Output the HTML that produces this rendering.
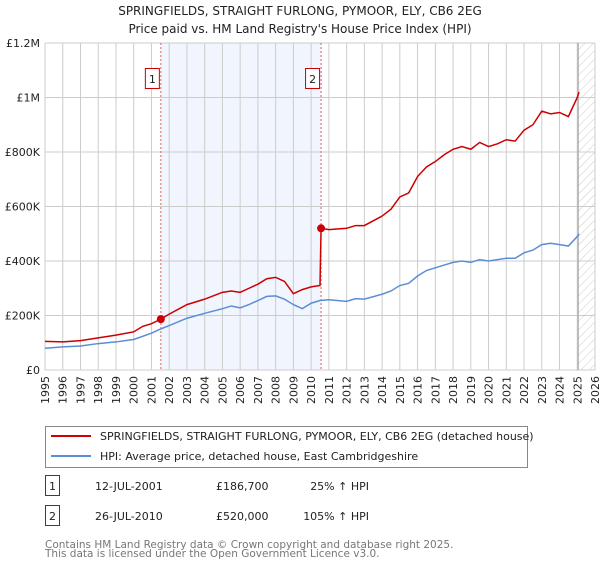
<!DOCTYPE html>
<html><head><meta charset="utf-8"><style>
body{margin:0;background:#fff;font-family:"DejaVu Sans","Liberation Sans",sans-serif;}
svg text{font-family:"DejaVu Sans","Liberation Sans",sans-serif;}
</style></head><body>
<svg id="chart" width="600" height="560" xmlns="http://www.w3.org/2000/svg">
<defs><pattern id="hatch" width="6" height="6" patternUnits="userSpaceOnUse" patternTransform="rotate(45)"><line x1="0" y1="0" x2="0" y2="6" stroke="#ccc" stroke-width="1"/></pattern></defs>
<text x="300" y="15" text-anchor="middle" font-size="12" fill="#222">SPRINGFIELDS, STRAIGHT FURLONG, PYMOOR, ELY, CB6 2EG</text>
<text x="300" y="33" text-anchor="middle" font-size="12" fill="#222">Price paid vs. HM Land Registry's House Price Index (HPI)</text>
<g id="plot"></g>
<g>
<rect x="45.5" y="426.5" width="482" height="41" fill="#fff" stroke="#888"/>
<line x1="51" y1="436" x2="91" y2="436" stroke="#cc0000" stroke-width="2"/>
<text x="100" y="440" font-size="11" fill="#222">SPRINGFIELDS, STRAIGHT FURLONG, PYMOOR, ELY, CB6 2EG (detached house)</text>
<line x1="51" y1="456" x2="91" y2="456" stroke="#5b8dd6" stroke-width="2"/>
<text x="100" y="460" font-size="11" fill="#222">HPI: Average price, detached house, East Cambridgeshire</text>
</g>
<g font-size="11" fill="#222">
<rect x="45.5" y="475.5" width="14" height="20" fill="#fff" stroke="#cc0000"/>
<text x="52.5" y="490" text-anchor="middle">1</text>
<text x="95" y="490">12-JUL-2001</text>
<text x="216" y="490">£186,700</text>
<text x="369" y="490" text-anchor="end">25% ↑ HPI</text>
<rect x="45.5" y="505.5" width="14" height="20" fill="#fff" stroke="#cc0000"/>
<text x="52.5" y="520" text-anchor="middle">2</text>
<text x="95" y="520">26-JUL-2010</text>
<text x="216" y="520">£520,000</text>
<text x="369" y="520" text-anchor="end">105% ↑ HPI</text>
</g>
<text x="45" y="548" font-size="10.5" fill="#777">Contains HM Land Registry data © Crown copyright and database right 2025.</text>
<text x="45" y="557" font-size="10.5" fill="#777">This data is licensed under the Open Government Licence v3.0.</text>
</svg>
<script>
const hpiYears=[1995,1996,1997,1998,1999,2000,2001,2001.5,2002,2003,2004,2005,2005.5,2006,2006.5,2007,2007.5,2008,2008.5,2009,2009.5,2010,2010.5,2011,2012,2012.5,2013,2014,2014.5,2015,2015.5,2016,2016.5,2017,2017.5,2018,2018.5,2019,2019.5,2020,2020.5,2021,2021.5,2022,2022.5,2023,2023.5,2024,2024.5,2025,2025.1];
const hpiValues=[80,85,88,97,103,112,135,150,163,190,208,225,235,228,240,255,270,272,260,240,225,245,255,258,252,262,260,278,290,310,318,345,365,375,385,395,400,395,405,400,405,410,410,430,440,460,465,460,455,490,500];
const priceYears=[1995,1996,1997,1998,1999,2000,2000.5,2001,2001.53,2002,2003,2004,2005,2005.5,2006,2006.5,2007,2007.5,2008,2008.5,2009,2009.5,2010,2010.5,2010.56,2011,2012,2012.5,2013,2014,2014.5,2015,2015.5,2016,2016.5,2017,2017.5,2018,2018.5,2019,2019.5,2020,2020.5,2021,2021.5,2022,2022.5,2023,2023.5,2024,2024.5,2025,2025.1];
const priceValues=[105,103,108,118,128,140,160,170,186.7,205,240,260,285,290,285,300,315,335,340,325,280,295,305,310,520,515,520,530,530,565,590,635,650,710,745,765,790,810,820,810,835,820,830,845,840,880,900,950,940,945,930,1000,1020];
const saleYears=[2001.53,2010.56];
const saleValues=[186.7,520];
const saleLabels=["1","2"];
const yTicks=[0,200,400,600,800,1000,1200];
const yTickLabels=["£0","£200K","£400K","£600K","£800K","£1M","£1.2M"];
const xTicks=[];for(let y=1995;y<=2026;y++)xTicks.push(y);

const X0=45,X1=595,Y0=370,Y1=43;
const x=v=>X0+(v-1995)/(2026-1995)*(X1-X0);
const y=v=>Y0-v/1200*(Y0-Y1);
const NS="http://www.w3.org/2000/svg";
const g=document.getElementById('plot');
function mk(t,a){const e=document.createElementNS(NS,t);for(const k in a)e.setAttribute(k,a[k]);g.appendChild(e);return e;}

const shade=mk('rect',{x:x(saleYears[0]),y:Y1,width:x(saleYears[1])-x(saleYears[0]),height:Y0-Y1,fill:'#eef3fc',opacity:0.8});


for(const t of xTicks){const l=mk('line',{x1:x(t),x2:x(t),y1:Y1,y2:Y0,stroke:'#ccc','stroke-width':1});


const tx=mk('text',{x:0,y:0,'font-size':11,fill:'#222','text-anchor':'end',transform:`translate(${x(t)+4},${Y0+6}) rotate(-90)`});tx.textContent=t;

}
yTicks.forEach((t,i)=>{const l=mk('line',{x1:X0,x2:X1,y1:y(t),y2:y(t),stroke:'#ccc','stroke-width':1});


const tx=mk('text',{x:X0-5,y:y(t)+4,'font-size':11,fill:'#222','text-anchor':'end'});tx.textContent=yTickLabels[i];

});
const hx=x(2025.05);
const hatch=mk('rect',{x:hx,y:Y1,width:X1-hx,height:Y0-Y1,fill:'url(#hatch)'});


mk('line',{x1:hx,x2:hx,y1:Y1,y2:Y0,stroke:'#999','stroke-width':1});
saleYears.forEach((s,i)=>{const l=mk('line',{x1:x(s),x2:x(s),y1:Y1,y2:Y0,stroke:'#e06060','stroke-width':1,'stroke-dasharray':'2,2'});


const b=mk('rect',{x:x(s)-15.5,y:68.5,width:14,height:20,fill:'#fff',stroke:'#cc0000'});


const t=mk('text',{x:x(s)-8.5,y:83,'font-size':11,fill:'#222','text-anchor':'middle'});t.textContent=saleLabels[i];

});
const hp=mk('polyline',{points:hpiYears.map((v,i)=>x(v)+','+y(hpiValues[i])).join(' '),fill:'none',stroke:'#5b8dd6','stroke-width':1.5});


const pp=mk('polyline',{points:priceYears.map((v,i)=>x(v)+','+y(priceValues[i])).join(' '),fill:'none',stroke:'#cc0000','stroke-width':1.5});


saleYears.forEach((s,i)=>{const c=mk('circle',{cx:x(s),cy:y(saleValues[i]),r:4,fill:'#cc0000'});

});
</script>
</body></html>
